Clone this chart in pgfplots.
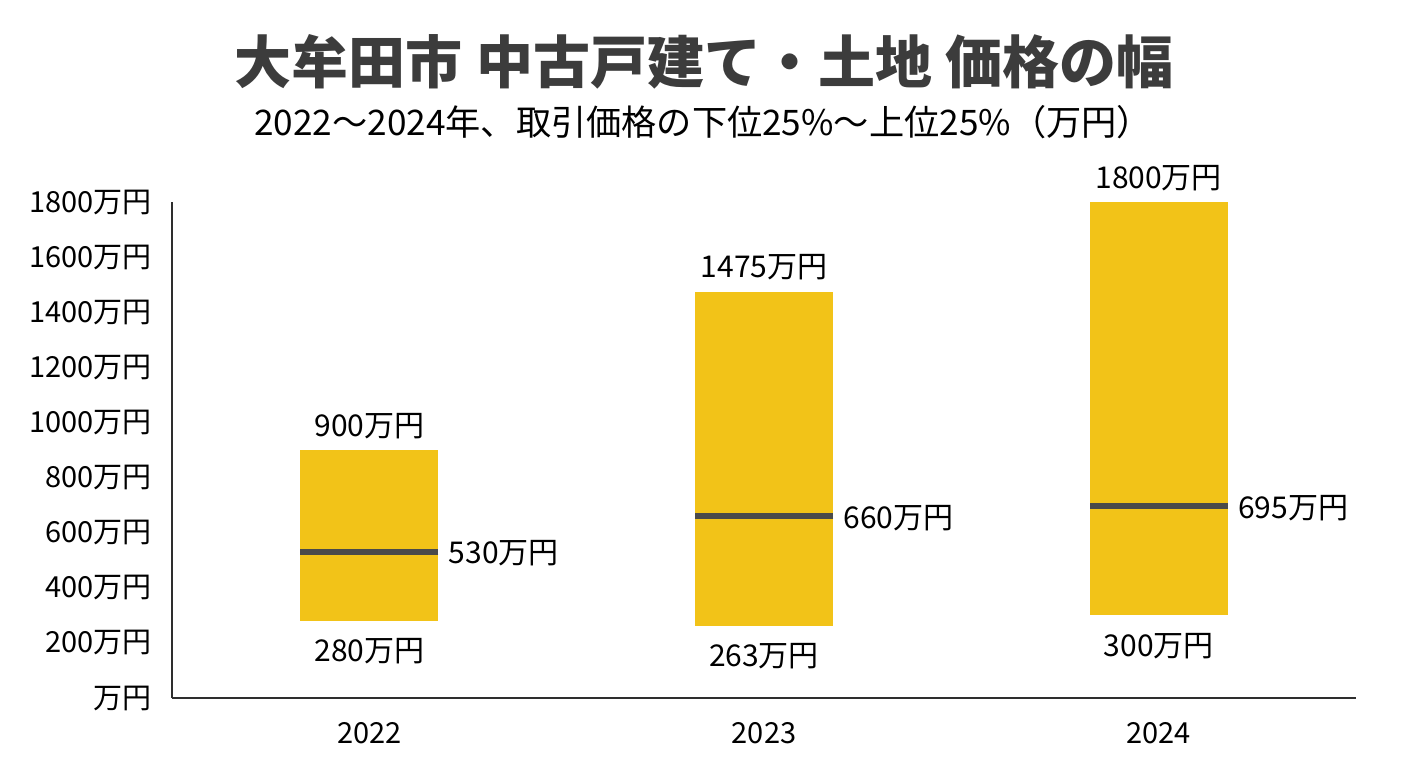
\documentclass[border=0pt]{standalone}
\usepackage{fontspec}
\setmainfont{Noto Sans CJK JP}
\usepackage{pgfplots}
\pgfplotsset{compat=1.18}
\usepackage{pgfplotstable}

\definecolor{barfill}{HTML}{F2C318}
\definecolor{medline}{HTML}{4A4A4A}
\definecolor{titlegray}{HTML}{3C3C3C}
\definecolor{axisgray}{HTML}{2E2E2E}

% lower quartile, median, upper quartile (万円)
\pgfplotstableread{
x low mid high
0 280 530 900
1 263 660 1475
2 300 695 1800
}\ranges

\pgfplotsset{
  vallabel/.style={only marks, mark=none, point meta=explicit symbolic,
    nodes near coords={\pgfplotspointmeta 万円},
    nodes near coords style={font=\fontsize{15pt}{18pt}\selectfont, text=black, inner sep=0pt, #1}},
}

\begin{document}
\begin{tikzpicture}
\path[fill=white] (0,0) rectangle (704pt,384pt);
\node[anchor=base, text=titlegray, font=\fontsize{28.5pt}{32pt}\selectfont\bfseries] at (352pt,342pt) {大牟田市 中古戸建て・土地 価格の幅};
\node[anchor=base, text=black, font=\fontsize{17.6pt}{20pt}\selectfont] at (351.5pt,316.5pt) {2022〜2024年、取引価格の下位25\%〜上位25\%（万円）};
\begin{axis}[
  at={(86pt,35pt)}, anchor=south west,
  scale only axis, width=592pt, height=248pt,
  xmin=-0.5, xmax=2.5, ymin=0, ymax=1800,
  axis x line*=bottom, axis y line*=left,
  axis line style={axisgray, line width=0.75pt, -},
  major tick length=0pt,
  xtick={0,1,2}, xticklabels={2022,2023,2024},
  ytick={0,200,...,1800},
  yticklabels={万円,200万円,400万円,600万円,800万円,1000万円,1200万円,1400万円,1600万円,1800万円},
  ticklabel style={font=\fontsize{14.5pt}{16pt}\selectfont, inner sep=0pt, text=black},
  xticklabel style={anchor=north, yshift=-12pt},
  yticklabel style={anchor=east, xshift=-10pt},
  clip=false,
]
% range bars: a thick error bar from low to high
\addplot[barfill, only marks, mark=none,
  error bars/.cd, y dir=both, y explicit, error mark=none,
  error bar style={barfill, line width=69pt, line cap=butt}]
  table[x=x, y=mid,
        y error plus expr=\thisrow{high}-\thisrow{mid},
        y error minus expr=\thisrow{mid}-\thisrow{low}] {\ranges};
% median line
\addplot[only marks, mark=-, mark size=34.5pt,
  mark options={draw=medline, line width=3pt}]
  table[x=x, y=mid] {\ranges};

% value labels
\addplot[vallabel={anchor=base, yshift=7pt}] table[x=x, y=high, meta=high] {\ranges};
\addplot[vallabel={anchor=base, yshift=-20.5pt}] table[x=x, y=low, meta=low] {\ranges};
\addplot[vallabel={anchor=base west, xshift=39.5pt, yshift=-6pt}] table[x=x, y=mid, meta=mid] {\ranges};
\end{axis}
\end{tikzpicture}
\end{document}
